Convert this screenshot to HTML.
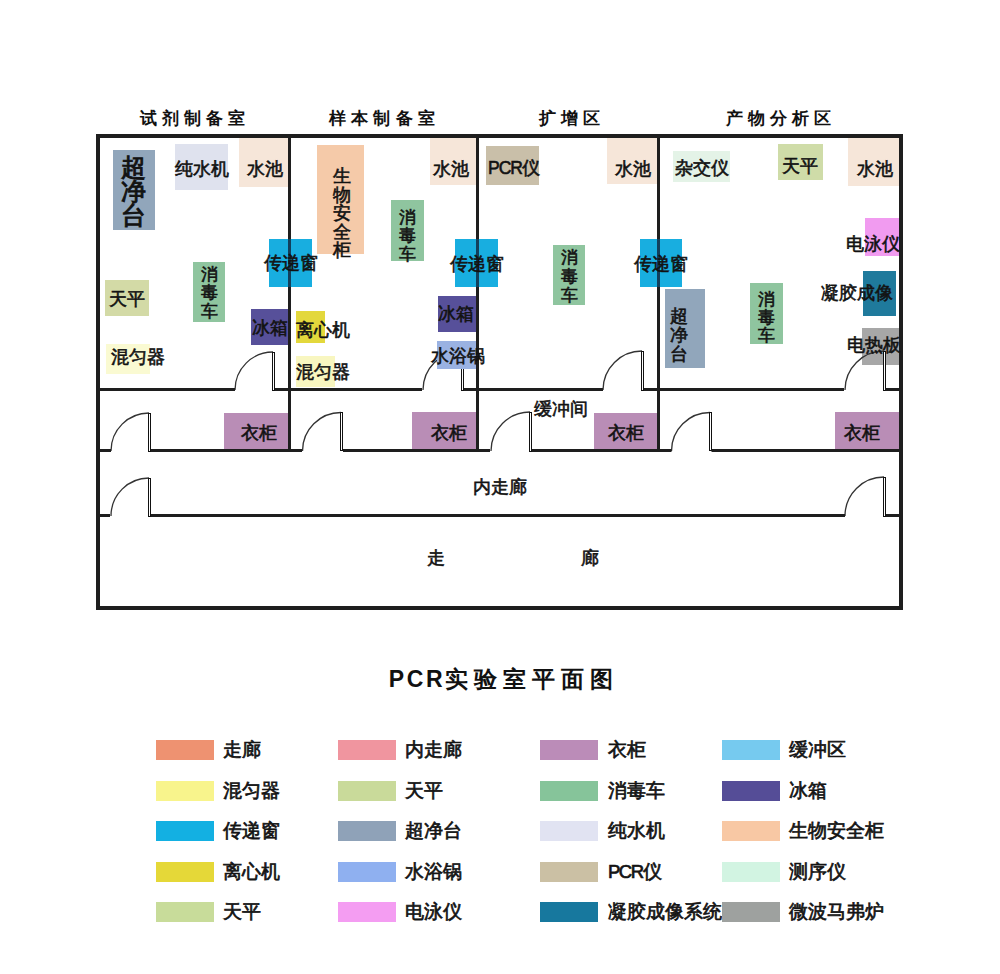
<!DOCTYPE html>
<html><head><meta charset="utf-8"><style>
html,body{margin:0;padding:0;background:#fff;}
#c{position:relative;width:1000px;height:974px;overflow:hidden;background:#fff;font-family:"Liberation Sans", sans-serif;}
.b{position:absolute;}
.s{position:absolute;left:0;top:0;}
.t{position:absolute;width:300px;height:40px;line-height:40px;text-align:center;white-space:nowrap;-webkit-text-stroke:0.6px #141414;}
.lt{position:absolute;height:40px;line-height:40px;font-size:18.5px;font-weight:500;color:#141414;white-space:nowrap;-webkit-text-stroke:0.7px #141414;}
</style></head><body><div id="c">
<svg class="s" width="1000" height="974" viewBox="0 0 1000 974"><path d="M235,390 A38,38 0 0 1 273,352" fill="none" stroke="#333" stroke-width="1.3"/><rect x="272.5" y="352.5" width="2" height="38" fill="#fff" stroke="#111" stroke-width="1"/><path d="M423,390 A39,39 0 0 1 462,351" fill="none" stroke="#333" stroke-width="1.3"/><rect x="461.5" y="351.5" width="2" height="39" fill="#fff" stroke="#111" stroke-width="1"/><path d="M603,390 A39,39 0 0 1 642,351" fill="none" stroke="#333" stroke-width="1.3"/><rect x="641.5" y="351.5" width="2" height="39" fill="#fff" stroke="#111" stroke-width="1"/><path d="M111,451 A38,38 0 0 1 149,413" fill="none" stroke="#333" stroke-width="1.3"/><rect x="148.5" y="413.5" width="2" height="38" fill="#fff" stroke="#111" stroke-width="1"/><path d="M302.5,451 A38.5,38.5 0 0 1 341,412.5" fill="none" stroke="#333" stroke-width="1.3"/><rect x="340.5" y="412.5" width="2" height="38" fill="#fff" stroke="#111" stroke-width="1"/><path d="M491,451 A39,39 0 0 1 530,412" fill="none" stroke="#333" stroke-width="1.3"/><rect x="529.5" y="412.5" width="2" height="39" fill="#fff" stroke="#111" stroke-width="1"/><path d="M671.5,451 A38.5,38.5 0 0 1 710,412.5" fill="none" stroke="#333" stroke-width="1.3"/><rect x="709.5" y="412.5" width="2" height="38" fill="#fff" stroke="#111" stroke-width="1"/><path d="M111,516 A38,38 0 0 1 149,478" fill="none" stroke="#333" stroke-width="1.3"/><rect x="148.5" y="478.5" width="2" height="38" fill="#fff" stroke="#111" stroke-width="1"/><path d="M845,516 A39,39 0 0 1 884,477" fill="none" stroke="#333" stroke-width="1.3"/><rect x="883.5" y="477.5" width="2" height="39" fill="#fff" stroke="#111" stroke-width="1"/></svg>
<div class="b" style="left:113px;top:150px;width:42px;height:80px;background:#91a6bb;"></div>
<div class="b" style="left:175px;top:144px;width:53px;height:46px;background:#dfe2ee;"></div>
<div class="b" style="left:239px;top:138px;width:49px;height:49px;background:#f6e6d9;"></div>
<div class="b" style="left:105px;top:280px;width:44px;height:36px;background:#d3daa6;"></div>
<div class="b" style="left:193px;top:262px;width:32px;height:60px;background:#8fc59f;"></div>
<div class="b" style="left:269px;top:239px;width:43px;height:48px;background:#18aee0;"></div>
<div class="b" style="left:251px;top:309px;width:37px;height:36px;background:#57509a;"></div>
<div class="b" style="left:106px;top:344px;width:44px;height:30px;background:#fafad2;"></div>
<div class="b" style="left:317px;top:145px;width:47px;height:109px;background:#f5caa9;"></div>
<div class="b" style="left:430px;top:138px;width:46px;height:47px;background:#f6e6d9;"></div>
<div class="b" style="left:391px;top:200px;width:33px;height:61px;background:#8fc59f;"></div>
<div class="b" style="left:455px;top:239px;width:43px;height:48px;background:#18aee0;"></div>
<div class="b" style="left:438px;top:296px;width:38px;height:36px;background:#57509a;"></div>
<div class="b" style="left:296px;top:311px;width:29px;height:32px;background:#e3d83c;"></div>
<div class="b" style="left:296px;top:356px;width:39px;height:31px;background:#f8f6c0;"></div>
<div class="b" style="left:437px;top:341px;width:39px;height:28px;background:#9ab2e2;"></div>
<div class="b" style="left:486px;top:146px;width:53px;height:39px;background:#c9bfa9;"></div>
<div class="b" style="left:607px;top:138px;width:50px;height:46px;background:#f6e6d9;"></div>
<div class="b" style="left:553px;top:245px;width:32px;height:60px;background:#8fc59f;"></div>
<div class="b" style="left:640px;top:239px;width:42px;height:48px;background:#18aee0;"></div>
<div class="b" style="left:673px;top:151px;width:57px;height:31px;background:#e4f3e7;"></div>
<div class="b" style="left:778px;top:144px;width:45px;height:36px;background:#cfdca8;"></div>
<div class="b" style="left:848px;top:138px;width:51px;height:48px;background:#f6e6d9;"></div>
<div class="b" style="left:865px;top:218px;width:35px;height:38px;background:#f19bf0;"></div>
<div class="b" style="left:863px;top:271px;width:33px;height:45px;background:#1f7a9c;"></div>
<div class="b" style="left:665px;top:289px;width:40px;height:79px;background:#91a6bb;"></div>
<div class="b" style="left:750px;top:283px;width:33px;height:61px;background:#8fc59f;"></div>
<div class="b" style="left:862px;top:328px;width:37px;height:37px;background:#a7a7a7;"></div>
<div class="b" style="left:224px;top:413px;width:64px;height:36px;background:#b98db6;"></div>
<div class="b" style="left:412px;top:412px;width:64px;height:37px;background:#b98db6;"></div>
<div class="b" style="left:594px;top:413px;width:63px;height:36px;background:#b98db6;"></div>
<div class="b" style="left:835px;top:412px;width:64px;height:37px;background:#b98db6;"></div>
<svg class="s" width="1000" height="974" viewBox="0 0 1000 974"><rect x="96" y="134" width="807" height="4" fill="#1e1e1e"/><rect x="96" y="134" width="4" height="476" fill="#1e1e1e"/><rect x="899" y="134" width="4" height="476" fill="#1e1e1e"/><rect x="96" y="606" width="807" height="4" fill="#1e1e1e"/><rect x="288" y="134" width="3" height="318" fill="#1e1e1e"/><rect x="476" y="134" width="3" height="318" fill="#1e1e1e"/><rect x="657" y="134" width="3" height="318" fill="#1e1e1e"/><rect x="288" y="239" width="3" height="48" fill="#123f5c"/><rect x="476" y="239" width="3" height="48" fill="#123f5c"/><rect x="657" y="239" width="3" height="48" fill="#123f5c"/><rect x="100" y="388" width="135" height="3" fill="#1e1e1e"/><rect x="275" y="388" width="13" height="3" fill="#1e1e1e"/><rect x="291" y="388" width="131" height="3" fill="#1e1e1e"/><rect x="464" y="388" width="12" height="3" fill="#1e1e1e"/><rect x="479" y="388" width="124" height="3" fill="#1e1e1e"/><rect x="644" y="388" width="13" height="3" fill="#1e1e1e"/><rect x="660" y="388" width="184" height="3" fill="#1e1e1e"/><path d="M845,390 A39,39 0 0 1 884,351" fill="none" stroke="#333" stroke-width="1.3"/><rect x="883.5" y="351.5" width="2" height="39" fill="#fff" stroke="#111" stroke-width="1"/><rect x="885.5" y="388" width="13.5" height="3" fill="#1e1e1e"/><rect x="100" y="449" width="11" height="3" fill="#1e1e1e"/><rect x="151" y="449" width="137" height="3" fill="#1e1e1e"/><rect x="291" y="449" width="11" height="3" fill="#1e1e1e"/><rect x="343" y="449" width="133" height="3" fill="#1e1e1e"/><rect x="479" y="449" width="11" height="3" fill="#1e1e1e"/><rect x="532" y="449" width="125" height="3" fill="#1e1e1e"/><rect x="660" y="449" width="11.5" height="3" fill="#1e1e1e"/><rect x="711.5" y="449" width="187.5" height="3" fill="#1e1e1e"/><rect x="100" y="514" width="10" height="3" fill="#1e1e1e"/><rect x="151" y="514" width="694" height="3" fill="#1e1e1e"/><rect x="886" y="514" width="13" height="3" fill="#1e1e1e"/></svg>
<div class="t" style="left:-16px;top:149px;font-size:18px;font-weight:500;letter-spacing:0px;text-indent:0px;color:#111;"></div>
<div class="t" style="left:-17px;top:147.0px;font-size:25px;font-weight:500;letter-spacing:0px;text-indent:0px;color:#111;-webkit-text-stroke:1px #141414">超</div>
<div class="t" style="left:-17px;top:171.0px;font-size:25px;font-weight:500;letter-spacing:0px;text-indent:0px;color:#111;-webkit-text-stroke:1px #141414">净</div>
<div class="t" style="left:-17px;top:195.0px;font-size:25px;font-weight:500;letter-spacing:0px;text-indent:0px;color:#111;-webkit-text-stroke:1px #141414">台</div>
<div class="t" style="left:52px;top:149px;font-size:17.5px;font-weight:500;letter-spacing:0px;text-indent:0px;color:#111;">纯水机</div>
<div class="t" style="left:114.5px;top:149px;font-size:17.5px;font-weight:500;letter-spacing:0px;text-indent:0px;color:#111;">水池</div>
<div class="t" style="left:-23px;top:279px;font-size:17.5px;font-weight:500;letter-spacing:0px;text-indent:0px;color:#111;">天平</div>
<div class="t" style="left:59px;top:255.10000000000002px;font-size:17px;font-weight:500;letter-spacing:0px;text-indent:0px;color:#111;">消</div>
<div class="t" style="left:59px;top:273.3px;font-size:17px;font-weight:500;letter-spacing:0px;text-indent:0px;color:#111;">毒</div>
<div class="t" style="left:59px;top:291.5px;font-size:17px;font-weight:500;letter-spacing:0px;text-indent:0px;color:#111;">车</div>
<div class="t" style="left:141px;top:243px;font-size:17.5px;font-weight:500;letter-spacing:0px;text-indent:0px;color:#111;">传递窗</div>
<div class="t" style="left:120px;top:307.5px;font-size:17.5px;font-weight:500;letter-spacing:0px;text-indent:0px;color:#111;">冰箱</div>
<div class="t" style="left:-12px;top:337px;font-size:17.5px;font-weight:500;letter-spacing:0px;text-indent:0px;color:#111;">混匀器</div>
<div class="t" style="left:192px;top:156.25px;font-size:18px;font-weight:500;letter-spacing:0px;text-indent:0px;color:#111;">生</div>
<div class="t" style="left:192px;top:174.75px;font-size:18px;font-weight:500;letter-spacing:0px;text-indent:0px;color:#111;">物</div>
<div class="t" style="left:192px;top:193.25px;font-size:18px;font-weight:500;letter-spacing:0px;text-indent:0px;color:#111;">安</div>
<div class="t" style="left:192px;top:211.75px;font-size:18px;font-weight:500;letter-spacing:0px;text-indent:0px;color:#111;">全</div>
<div class="t" style="left:192px;top:230.25px;font-size:18px;font-weight:500;letter-spacing:0px;text-indent:0px;color:#111;">柜</div>
<div class="t" style="left:300.5px;top:149px;font-size:17.5px;font-weight:500;letter-spacing:0px;text-indent:0px;color:#111;">水池</div>
<div class="t" style="left:257.5px;top:198.1px;font-size:17px;font-weight:500;letter-spacing:0px;text-indent:0px;color:#111;">消</div>
<div class="t" style="left:257.5px;top:216.29999999999998px;font-size:17px;font-weight:500;letter-spacing:0px;text-indent:0px;color:#111;">毒</div>
<div class="t" style="left:257.5px;top:234.5px;font-size:17px;font-weight:500;letter-spacing:0px;text-indent:0px;color:#111;">车</div>
<div class="t" style="left:326.5px;top:244px;font-size:17.5px;font-weight:500;letter-spacing:0px;text-indent:0px;color:#111;">传递窗</div>
<div class="t" style="left:306px;top:293.6px;font-size:17.5px;font-weight:500;letter-spacing:0px;text-indent:0px;color:#111;">冰箱</div>
<div class="t" style="left:172.5px;top:310px;font-size:17.5px;font-weight:500;letter-spacing:0px;text-indent:0px;color:#111;">离心机</div>
<div class="t" style="left:173px;top:351.5px;font-size:17.5px;font-weight:500;letter-spacing:0px;text-indent:0px;color:#111;">混匀器</div>
<div class="t" style="left:308px;top:336px;font-size:17.5px;font-weight:500;letter-spacing:0px;text-indent:0px;color:#111;">水浴锅</div>
<div class="t" style="left:364px;top:148px;font-size:17.5px;font-weight:500;letter-spacing:0px;text-indent:0px;color:#111;"><span style="letter-spacing:-1px">PCR</span>仪</div>
<div class="t" style="left:482.5px;top:149px;font-size:17.5px;font-weight:500;letter-spacing:0px;text-indent:0px;color:#111;">水池</div>
<div class="t" style="left:419px;top:237.5px;font-size:17px;font-weight:500;letter-spacing:0px;text-indent:0px;color:#111;">消</div>
<div class="t" style="left:419px;top:256.5px;font-size:17px;font-weight:500;letter-spacing:0px;text-indent:0px;color:#111;">毒</div>
<div class="t" style="left:419px;top:275.5px;font-size:17px;font-weight:500;letter-spacing:0px;text-indent:0px;color:#111;">车</div>
<div class="t" style="left:510.5px;top:244px;font-size:17.5px;font-weight:500;letter-spacing:0px;text-indent:0px;color:#111;">传递窗</div>
<div class="t" style="left:411px;top:388.6px;font-size:17.5px;font-weight:500;letter-spacing:0px;text-indent:0px;color:#111;">缓冲间</div>
<div class="t" style="left:552px;top:147.5px;font-size:17.5px;font-weight:500;letter-spacing:0px;text-indent:0px;color:#111;">杂交仪</div>
<div class="t" style="left:650px;top:146px;font-size:17.5px;font-weight:500;letter-spacing:0px;text-indent:0px;color:#111;">天平</div>
<div class="t" style="left:724.5px;top:148.5px;font-size:17.5px;font-weight:500;letter-spacing:0px;text-indent:0px;color:#111;">水池</div>
<div class="t" style="left:723px;top:224px;font-size:17.5px;font-weight:500;letter-spacing:0px;text-indent:0px;color:#111;">电泳仪</div>
<div class="t" style="left:706.5px;top:272.5px;font-size:17.5px;font-weight:500;letter-spacing:0px;text-indent:0px;color:#111;">凝胶成像</div>
<div class="t" style="left:528.5px;top:295.5px;font-size:18px;font-weight:500;letter-spacing:0px;text-indent:0px;color:#111;">超</div>
<div class="t" style="left:528.5px;top:314.5px;font-size:18px;font-weight:500;letter-spacing:0px;text-indent:0px;color:#111;">净</div>
<div class="t" style="left:528.5px;top:333.5px;font-size:18px;font-weight:500;letter-spacing:0px;text-indent:0px;color:#111;">台</div>
<div class="t" style="left:616px;top:279.6px;font-size:17px;font-weight:500;letter-spacing:0px;text-indent:0px;color:#111;">消</div>
<div class="t" style="left:616px;top:297.8px;font-size:17px;font-weight:500;letter-spacing:0px;text-indent:0px;color:#111;">毒</div>
<div class="t" style="left:616px;top:316.0px;font-size:17px;font-weight:500;letter-spacing:0px;text-indent:0px;color:#111;">车</div>
<div class="t" style="left:724px;top:325px;font-size:17.5px;font-weight:500;letter-spacing:0px;text-indent:0px;color:#111;">电热板</div>
<div class="t" style="left:108.5px;top:413px;font-size:17.5px;font-weight:500;letter-spacing:0px;text-indent:0px;color:#111;">衣柜</div>
<div class="t" style="left:298.5px;top:413px;font-size:17.5px;font-weight:500;letter-spacing:0px;text-indent:0px;color:#111;">衣柜</div>
<div class="t" style="left:475.5px;top:413px;font-size:17.5px;font-weight:500;letter-spacing:0px;text-indent:0px;color:#111;">衣柜</div>
<div class="t" style="left:712px;top:412.5px;font-size:17.5px;font-weight:500;letter-spacing:0px;text-indent:0px;color:#111;">衣柜</div>
<div class="t" style="left:350px;top:467px;font-size:17.5px;font-weight:500;letter-spacing:0px;text-indent:0px;color:#111;">内走廊</div>
<div class="t" style="left:286px;top:538px;font-size:17.5px;font-weight:500;letter-spacing:0px;text-indent:0px;color:#111;">走</div>
<div class="t" style="left:440px;top:538px;font-size:17.5px;font-weight:500;letter-spacing:0px;text-indent:0px;color:#111;">廊</div>
<div class="t" style="left:42.5px;top:99px;font-size:17px;font-weight:700;letter-spacing:5.2px;text-indent:5.2px;color:#111;-webkit-text-stroke:0">试剂制备室</div>
<div class="t" style="left:232px;top:99px;font-size:17px;font-weight:700;letter-spacing:5.2px;text-indent:5.2px;color:#111;-webkit-text-stroke:0">样本制备室</div>
<div class="t" style="left:419.5px;top:99px;font-size:17px;font-weight:700;letter-spacing:5.2px;text-indent:5.2px;color:#111;-webkit-text-stroke:0">扩增区</div>
<div class="t" style="left:628.5px;top:99px;font-size:17px;font-weight:700;letter-spacing:5.2px;text-indent:5.2px;color:#111;-webkit-text-stroke:0">产物分析区</div>
<div class="t" style="left:351px;top:659px;font-size:23px;font-weight:700;letter-spacing:6px;text-indent:6px;color:#111;-webkit-text-stroke:0"><span style="letter-spacing:2.6px">PCR</span>实验室平面图</div>
<div class="b" style="left:156px;top:740px;width:58px;height:20px;background:#ee9271;"></div>
<div class="lt" style="left:223px;top:730px">走廊</div>
<div class="b" style="left:156px;top:781px;width:58px;height:20px;background:#f8f48c;"></div>
<div class="lt" style="left:223px;top:771px">混匀器</div>
<div class="b" style="left:156px;top:821px;width:58px;height:20px;background:#13b0e2;"></div>
<div class="lt" style="left:223px;top:811px">传递窗</div>
<div class="b" style="left:156px;top:862px;width:58px;height:20px;background:#e5d838;"></div>
<div class="lt" style="left:223px;top:852px">离心机</div>
<div class="b" style="left:156px;top:902px;width:58px;height:20px;background:#c8dc9a;"></div>
<div class="lt" style="left:223px;top:892px">天平</div>
<div class="b" style="left:338px;top:740px;width:58px;height:20px;background:#f0959f;"></div>
<div class="lt" style="left:405px;top:730px">内走廊</div>
<div class="b" style="left:338px;top:781px;width:58px;height:20px;background:#c9da9a;"></div>
<div class="lt" style="left:405px;top:771px">天平</div>
<div class="b" style="left:338px;top:821px;width:58px;height:20px;background:#8fa2b8;"></div>
<div class="lt" style="left:405px;top:811px">超净台</div>
<div class="b" style="left:338px;top:862px;width:58px;height:20px;background:#8fb0f0;"></div>
<div class="lt" style="left:405px;top:852px">水浴锅</div>
<div class="b" style="left:338px;top:902px;width:58px;height:20px;background:#f49df2;"></div>
<div class="lt" style="left:405px;top:892px">电泳仪</div>
<div class="b" style="left:540px;top:740px;width:58px;height:20px;background:#bb8cb8;"></div>
<div class="lt" style="left:608px;top:730px">衣柜</div>
<div class="b" style="left:540px;top:781px;width:58px;height:20px;background:#86c49a;"></div>
<div class="lt" style="left:608px;top:771px">消毒车</div>
<div class="b" style="left:540px;top:821px;width:58px;height:20px;background:#e1e3f2;"></div>
<div class="lt" style="left:608px;top:811px">纯水机</div>
<div class="b" style="left:540px;top:862px;width:58px;height:20px;background:#cbc0a4;"></div>
<div class="lt" style="left:608px;top:852px"><span style="letter-spacing:-1.5px">PCR</span>仪</div>
<div class="b" style="left:540px;top:902px;width:58px;height:20px;background:#17789e;"></div>
<div class="lt" style="left:608px;top:892px">凝胶成像系统</div>
<div class="b" style="left:722px;top:740px;width:58px;height:20px;background:#76caef;"></div>
<div class="lt" style="left:789px;top:730px">缓冲区</div>
<div class="b" style="left:722px;top:781px;width:58px;height:20px;background:#554d97;"></div>
<div class="lt" style="left:789px;top:771px">冰箱</div>
<div class="b" style="left:722px;top:821px;width:58px;height:20px;background:#f8c8a4;"></div>
<div class="lt" style="left:789px;top:811px">生物安全柜</div>
<div class="b" style="left:722px;top:862px;width:58px;height:20px;background:#d2f4e2;"></div>
<div class="lt" style="left:789px;top:852px">测序仪</div>
<div class="b" style="left:722px;top:902px;width:58px;height:20px;background:#9ea19f;"></div>
<div class="lt" style="left:789px;top:892px">微波马弗炉</div>
</div></body></html>
